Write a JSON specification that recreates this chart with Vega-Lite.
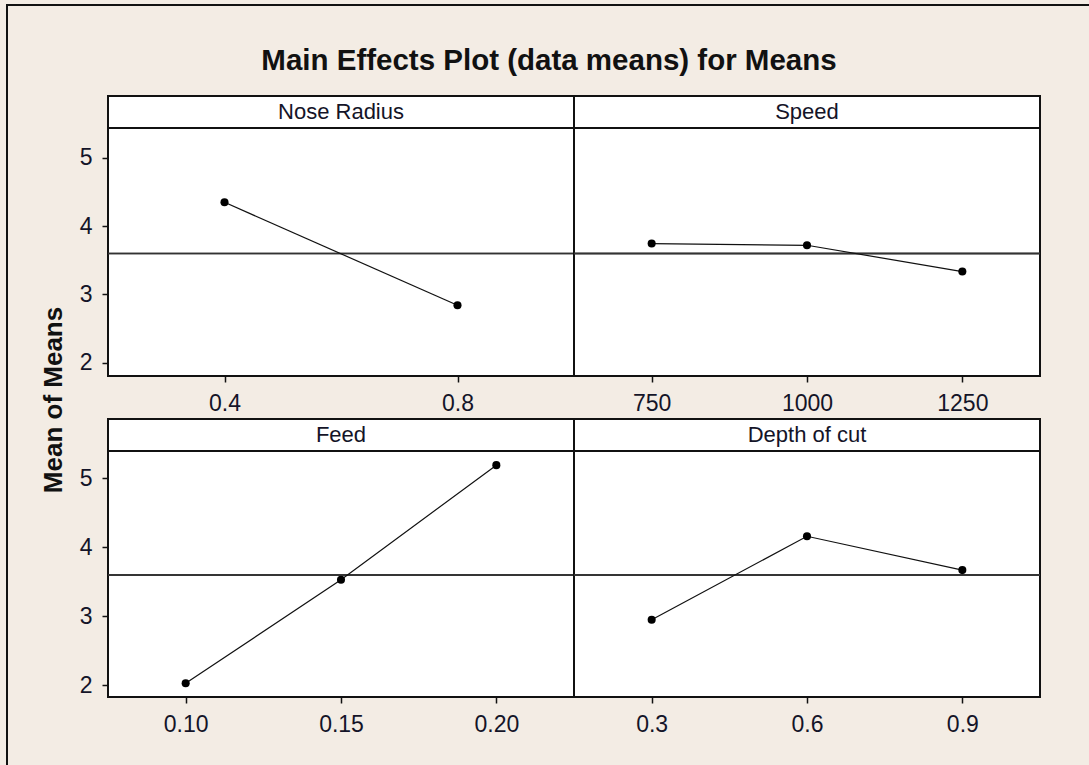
{
  "$schema": "https://vega.github.io/schema/vega-lite/v6.json",
  "background": "#f3ece4",
  "padding": {"left": 6, "top": 4, "right": 0, "bottom": 0},
  "datasets": {
    "means": [
      {"factor": "Nose Radius", "level": 0.4, "mean": 4.35},
      {"factor": "Nose Radius", "level": 0.8, "mean": 2.84},
      {"factor": "Speed", "level": 750, "mean": 3.745},
      {"factor": "Speed", "level": 1000, "mean": 3.72},
      {"factor": "Speed", "level": 1250, "mean": 3.335},
      {"factor": "Feed", "level": 0.10, "mean": 2.03},
      {"factor": "Feed", "level": 0.15, "mean": 3.53},
      {"factor": "Feed", "level": 0.20, "mean": 5.19},
      {"factor": "Depth of cut", "level": 0.3, "mean": 2.95},
      {"factor": "Depth of cut", "level": 0.6, "mean": 4.16},
      {"factor": "Depth of cut", "level": 0.9, "mean": 3.67}
    ]
  },
  "config": {
    "view": {"fill": "white", "stroke": "#111111", "strokeWidth": 2},
    "axis": {"domain": false, "grid": false, "tickColor": "#111111", "tickSize": 6, "tickWidth": 1.5, "labelFont": "Liberation Sans", "labelFontSize": 23, "labelColor": "#141428", "labelPadding": 10, "title": null}
  },
  "spacing": 0,
  "vconcat": [
    {
      "width": 1090, "height": 2,
      "data": {"values": [{"frame": "top"}]},
      "mark": {"type": "rect", "fill": "#111111"},
      "encoding": {}
    },
    {
      "spacing": 0,
      "hconcat": [
        {
          "width": 2, "height": 762,
          "data": {"values": [{"frame": "left"}]},
          "mark": {"type": "rect", "fill": "#111111"},
          "encoding": {}
        },
        {
          "spacing": 0,
          "vconcat": [
            {
              "width": 1082, "height": 89,
              "data": {"values": [{"label": "Main Effects Plot (data means) for Means"}]},
              "mark": {"type": "text", "font": "Liberation Sans", "fontSize": 29.5, "fontWeight": "bold", "color": "#111111", "baseline": "middle", "align": "center", "dy": 10.5},
              "encoding": {"text": {"field": "label"}}
            },
            {
              "spacing": -21,
              "hconcat": [
                {
                  "width": 91, "height": 608,
                  "data": {"values": [{"label": "Mean of Means"}]},
                  "mark": {"type": "text", "font": "Liberation Sans", "fontSize": 26, "fontWeight": "bold", "color": "#111111", "angle": 270, "baseline": "middle", "align": "center"},
                  "encoding": {"text": {"field": "label"}}
                },
                {
                  "spacing": 2,
                  "vconcat": [
                    {
                      "columns": 2,
                      "bounds": "flush",
                      "align": "each",
                      "spacing": 0,
                      "concat": [
                        {
                          "width": 466, "height": 32,
                          "data": {"values": [{"label": "Nose Radius"}]},
                          "layer": [
                            {"mark": {"type": "rect", "fill": "white", "stroke": "#111111", "strokeWidth": 2}, "encoding": {}},
                            {"mark": {"type": "text", "font": "Liberation Sans", "fontSize": 22, "color": "#141428", "baseline": "middle"}, "encoding": {"text": {"field": "label"}}}
                          ]
                        },
                        {
                          "width": 466, "height": 32,
                          "data": {"values": [{"label": "Speed"}]},
                          "layer": [
                            {"mark": {"type": "rect", "fill": "white", "stroke": "#111111", "strokeWidth": 2}, "encoding": {}},
                            {"mark": {"type": "text", "font": "Liberation Sans", "fontSize": 22, "color": "#141428", "baseline": "middle"}, "encoding": {"text": {"field": "label"}}}
                          ]
                        },
                        {
                          "width": 466, "height": 248,
                          "data": {"name": "means"},
                          "transform": [{"filter": "datum.factor === 'Nose Radius'"}],
                          "encoding": {
                            "y": {"field": "mean", "type": "quantitative", "scale": {"domain": [1.804, 5.439], "nice": false, "zero": false}, "axis": {"values": [2, 3, 4, 5], "format": "d"}}
                          },
                          "layer": [
                            {"mark": {"type": "rule", "color": "#333333", "strokeWidth": 1.5}, "encoding": {"y": {"datum": 3.6, "type": "quantitative", "scale": {"domain": [1.804, 5.439], "nice": false, "zero": false}}}},
                            {"mark": {"type": "line", "color": "#111111", "strokeWidth": 1.2}, "encoding": {"x": {"field": "level", "type": "quantitative", "scale": {"domain": [0.2, 1.0], "nice": false, "zero": false}, "axis": {"values": [0.4, 0.8], "format": ".1f"}}}},
                            {"mark": {"type": "point", "filled": true, "color": "#000000", "size": 65, "opacity": 1}, "encoding": {"x": {"field": "level", "type": "quantitative"}}}
                          ]
                        },
                        {
                          "width": 466, "height": 248,
                          "data": {"name": "means"},
                          "transform": [{"filter": "datum.factor === 'Speed'"}],
                          "encoding": {
                            "y": {"field": "mean", "type": "quantitative", "scale": {"domain": [1.804, 5.439], "nice": false, "zero": false}, "axis": null}
                          },
                          "layer": [
                            {"mark": {"type": "rule", "color": "#333333", "strokeWidth": 1.5}, "encoding": {"y": {"datum": 3.6, "type": "quantitative", "scale": {"domain": [1.804, 5.439], "nice": false, "zero": false}, "axis": null}}},
                            {"mark": {"type": "line", "color": "#111111", "strokeWidth": 1.2}, "encoding": {"x": {"field": "level", "type": "quantitative", "scale": {"domain": [625, 1375], "nice": false, "zero": false}, "axis": {"values": [750, 1000, 1250], "format": "d"}}}},
                            {"mark": {"type": "point", "filled": true, "color": "#000000", "size": 65, "opacity": 1}, "encoding": {"x": {"field": "level", "type": "quantitative"}}}
                          ]
                        }
                      ]
                    },
                    {
                      "columns": 2,
                      "bounds": "flush",
                      "align": "each",
                      "spacing": 0,
                      "concat": [
                        {
                          "width": 466, "height": 32,
                          "data": {"values": [{"label": "Feed"}]},
                          "layer": [
                            {"mark": {"type": "rect", "fill": "white", "stroke": "#111111", "strokeWidth": 2}, "encoding": {}},
                            {"mark": {"type": "text", "font": "Liberation Sans", "fontSize": 22, "color": "#141428", "baseline": "middle"}, "encoding": {"text": {"field": "label"}}}
                          ]
                        },
                        {
                          "width": 466, "height": 32,
                          "data": {"values": [{"label": "Depth of cut"}]},
                          "layer": [
                            {"mark": {"type": "rect", "fill": "white", "stroke": "#111111", "strokeWidth": 2}, "encoding": {}},
                            {"mark": {"type": "text", "font": "Liberation Sans", "fontSize": 22, "color": "#141428", "baseline": "middle"}, "encoding": {"text": {"field": "label"}}}
                          ]
                        },
                        {
                          "width": 466, "height": 246,
                          "data": {"name": "means"},
                          "transform": [{"filter": "datum.factor === 'Feed'"}],
                          "encoding": {
                            "y": {"field": "mean", "type": "quantitative", "scale": {"domain": [1.832, 5.395], "nice": false, "zero": false}, "axis": {"values": [2, 3, 4, 5], "format": "d"}}
                          },
                          "layer": [
                            {"mark": {"type": "rule", "color": "#333333", "strokeWidth": 1.5}, "encoding": {"y": {"datum": 3.6, "type": "quantitative", "scale": {"domain": [1.832, 5.395], "nice": false, "zero": false}}}},
                            {"mark": {"type": "line", "color": "#111111", "strokeWidth": 1.2}, "encoding": {"x": {"field": "level", "type": "quantitative", "scale": {"domain": [0.075, 0.225], "nice": false, "zero": false}, "axis": {"values": [0.10, 0.15, 0.20], "format": ".2f"}}}},
                            {"mark": {"type": "point", "filled": true, "color": "#000000", "size": 65, "opacity": 1}, "encoding": {"x": {"field": "level", "type": "quantitative"}}}
                          ]
                        },
                        {
                          "width": 466, "height": 246,
                          "data": {"name": "means"},
                          "transform": [{"filter": "datum.factor === 'Depth of cut'"}],
                          "encoding": {
                            "y": {"field": "mean", "type": "quantitative", "scale": {"domain": [1.832, 5.395], "nice": false, "zero": false}, "axis": null}
                          },
                          "layer": [
                            {"mark": {"type": "rule", "color": "#333333", "strokeWidth": 1.5}, "encoding": {"y": {"datum": 3.6, "type": "quantitative", "scale": {"domain": [1.832, 5.395], "nice": false, "zero": false}, "axis": null}}},
                            {"mark": {"type": "line", "color": "#111111", "strokeWidth": 1.2}, "encoding": {"x": {"field": "level", "type": "quantitative", "scale": {"domain": [0.15, 1.05], "nice": false, "zero": false}, "axis": {"values": [0.3, 0.6, 0.9], "format": ".1f"}}}},
                            {"mark": {"type": "point", "filled": true, "color": "#000000", "size": 65, "opacity": 1}, "encoding": {"x": {"field": "level", "type": "quantitative"}}}
                          ]
                        }
                      ]
                    }
                  ]
                }
              ]
            }
          ]
        }
      ]
    }
  ]
}
